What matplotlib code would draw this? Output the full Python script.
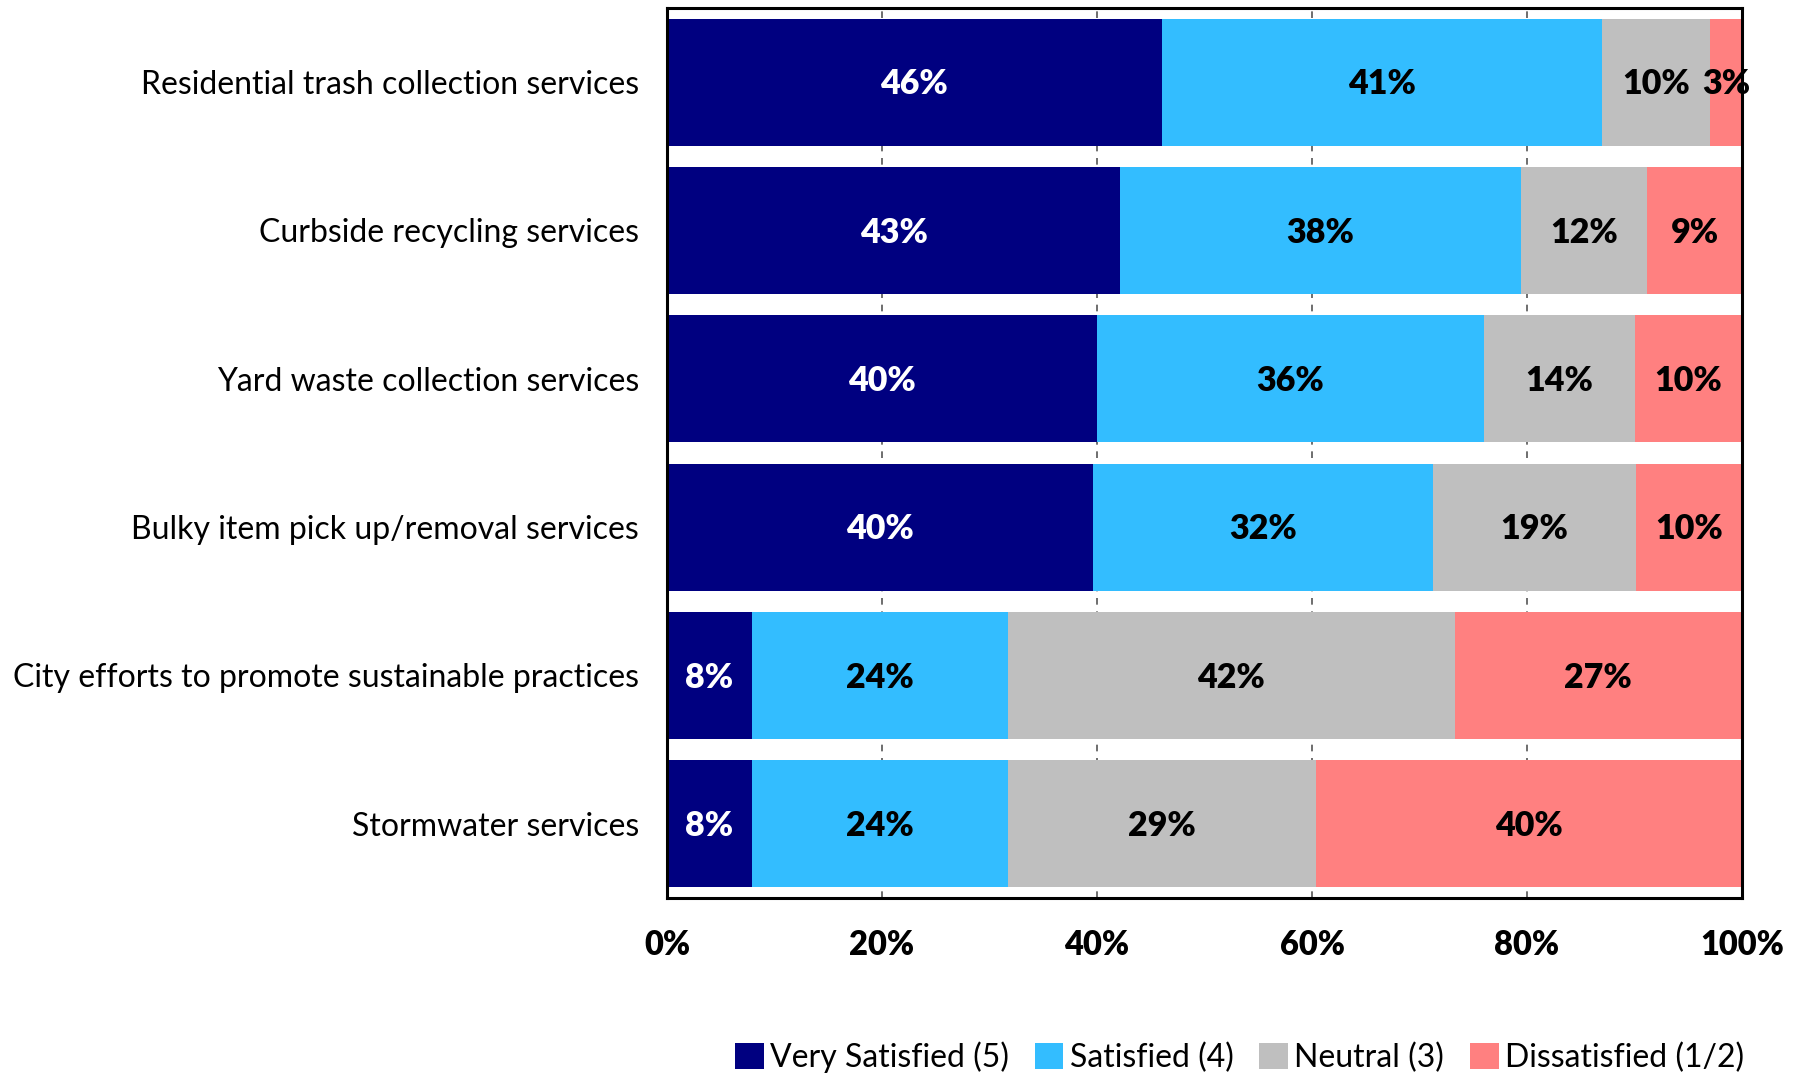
import matplotlib.pyplot as plt
import numpy as np
from matplotlib.patches import Patch

plt.rcParams["font.family"] = ["Lato", "DejaVu Sans"]

categories = [
    "Residential trash collection services",
    "Curbside recycling services",
    "Yard waste collection services",
    "Bulky item pick up/removal services",
    "City efforts to promote sustainable practices",
    "Stormwater services",
]
series_names = ["Very Satisfied (5)", "Satisfied (4)", "Neutral (3)", "Dissatisfied (1/2)"]
very_satisfied = [46, 43, 40, 40, 8, 8]
satisfied = [41, 38, 36, 32, 24, 24]
neutral = [10, 12, 14, 19, 42, 29]
dissatisfied = [3, 9, 10, 10, 27, 40]
x_ticks = [0, 20, 40, 60, 80, 100]

colors = ["#000080", "#33BDFF", "#BFBFBF", "#FF8080"]
text_colors = ["white", "black", "black", "black"]

values = np.array([very_satisfied, satisfied, neutral, dissatisfied], dtype=float)
# 100% stacked: each row is scaled to its own total
shares = values / values.sum(axis=0) * 100

fig = plt.figure(figsize=(18.09, 10.74), dpi=100)
ax = fig.add_axes([0.3687, 0.1639, 0.963 - 0.3687, 0.9926 - 0.1639])

y = np.arange(len(categories))
left = np.zeros(len(categories))
for i in range(len(series_names)):
    ax.barh(y, shares[i], left=left, height=0.855, color=colors[i],
            label=series_names[i], zorder=2)
    for row in range(len(categories)):
        ax.text(left[row] + shares[i][row] / 2, y[row] + 0.015, f"{values[i][row]:.0f}%",
                ha="center", va="center", fontsize=24.5, fontweight="heavy",
                color=text_colors[i], zorder=3, clip_on=False)
    left += shares[i]

ax.set_xlim(0, 100)
ax.set_ylim(len(categories) - 0.5, -0.5)
ax.set_yticks(y)
ax.set_yticklabels(categories, fontsize=23)
ax.set_xticks(x_ticks)
ax.set_xticklabels([f"{t}%" for t in x_ticks], fontsize=23.5, fontweight="heavy")
ax.tick_params(axis="y", length=0, pad=20)
ax.tick_params(axis="x", length=0, pad=22)

ax.xaxis.grid(True, color="#555555", linestyle=(0, (4, 4)), linewidth=1.2, zorder=1)
ax.set_axisbelow(True)
for spine in ax.spines.values():
    spine.set_linewidth(2.2)
    spine.set_color("black")

handles = [Patch(facecolor=c, edgecolor="none") for c in colors]
fig.legend(handles, series_names, loc="lower right", bbox_to_anchor=(0.98, -0.026),
           ncol=4, frameon=False, fontsize=23, handlelength=0.9, handleheight=0.9,
           handletextpad=0.2, columnspacing=0.8)

fig.savefig("out.png", dpi=100)
